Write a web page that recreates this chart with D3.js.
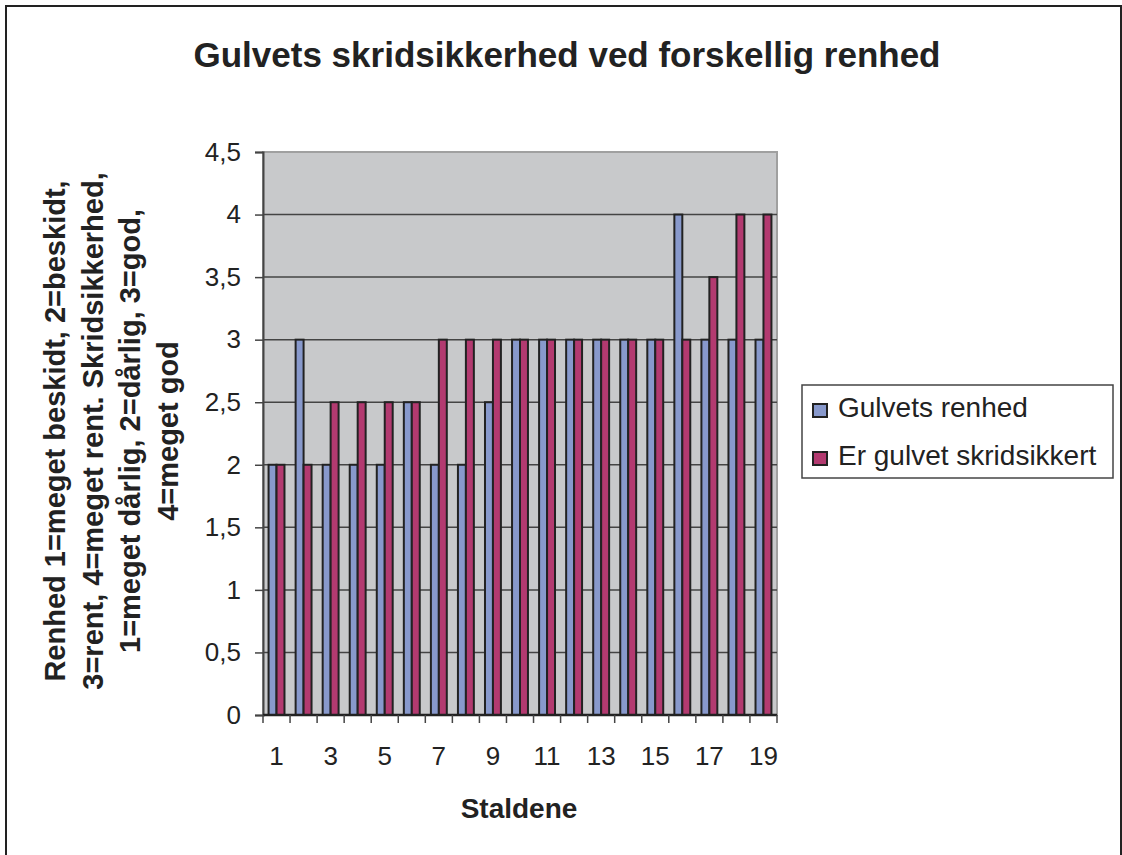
<!DOCTYPE html>
<html>
<head>
<meta charset="utf-8">
<script src="https://d3js.org/d3.v7.min.js"></script>
<style>
  body { margin: 0; background: #fff; }
  svg { display: block; font-family: "Liberation Sans", Arial, sans-serif; }
</style>
</head>
<body>
<div id="chart"></div>
<script>
// Staldene 1..19
var stalde = d3.range(1, 20).map(String);
var seriesNames = ["Gulvets renhed", "Er gulvet skridsikkert"];
var renhed = [2, 3, 2, 2, 2, 2.5, 2, 2, 2.5, 3, 3, 3, 3, 3, 3, 4, 3, 3, 3];
var skridsikker = [2, 2, 2.5, 2.5, 2.5, 2.5, 3, 3, 3, 3, 3, 3, 3, 3, 3, 3, 3.5, 4, 4];
var yTicks = [0, 0.5, 1, 1.5, 2, 2.5, 3, 3.5, 4, 4.5];
var xTickLabels = ["1", "3", "5", "7", "9", "11", "13", "15", "17", "19"];
var colors = ["#8899cc", "#b33a70"];
var yTitleLines = [
  "Renhed 1=meget beskidt,  2=beskidt,",
  "3=rent,  4=meget rent.  Skridsikkerhed,",
  "1=meget dårlig,  2=dårlig,  3=god,",
  "4=meget god"
];

var W = 1122, H = 855;
var plot = { left: 263, right: 777, top: 152, bottom: 715 };

var svg = d3.select("#chart").append("svg")
  .attr("width", W)
  .attr("height", H);

// outer frame
svg.append("rect")
  .attr("x", 6).attr("y", 6)
  .attr("width", 1115).attr("height", 870)
  .attr("fill", "#fff")
  .attr("stroke", "#222")
  .attr("stroke-width", 2);

// title
svg.append("text")
  .attr("x", 567).attr("y", 67)
  .attr("text-anchor", "middle")
  .attr("font-size", 35)
  .attr("font-weight", "bold")
  .attr("fill", "#222")
  .text("Gulvets skridsikkerhed ved forskellig renhed");

var x0 = d3.scaleBand()
  .domain(stalde)
  .range([plot.left, plot.right])
  .padding(0);

var x1 = d3.scaleBand()
  .domain(seriesNames)
  .range([0, x0.bandwidth()])
  .paddingInner(0)
  .paddingOuter(0.7);

var y = d3.scaleLinear()
  .domain([0, 4.5])
  .range([plot.bottom, plot.top]);

// plot background
svg.append("rect")
  .attr("x", plot.left).attr("y", plot.top)
  .attr("width", plot.right - plot.left)
  .attr("height", plot.bottom - plot.top)
  .attr("fill", "#c8c9cb")
  .attr("stroke", "#a0a0a0")
  .attr("stroke-width", 2);

// gridlines
svg.append("g")
  .selectAll("line")
  .data(yTicks.filter(function(d) { return d > 0 && d < 4.5; }))
  .enter().append("line")
  .attr("x1", plot.left).attr("x2", plot.right)
  .attr("y1", function(d) { return y(d); })
  .attr("y2", function(d) { return y(d); })
  .attr("stroke", "#444")
  .attr("stroke-width", 1.5);

// bars
var rows = stalde.map(function(s, i) {
  return { stald: s, values: [renhed[i], skridsikker[i]] };
});

var groups = svg.append("g")
  .selectAll("g")
  .data(rows)
  .enter().append("g")
  .attr("transform", function(d) { return "translate(" + x0(d.stald) + ",0)"; });

groups.selectAll("rect")
  .data(function(d) {
    return d.values.map(function(v, j) { return { name: seriesNames[j], value: v, idx: j }; });
  })
  .enter().append("rect")
  .attr("x", function(d) { return x1(d.name); })
  .attr("y", function(d) { return y(d.value); })
  .attr("width", x1.bandwidth())
  .attr("height", function(d) { return y(0) - y(d.value); })
  .attr("fill", function(d) { return colors[d.idx]; })
  .attr("stroke", "#222")
  .attr("stroke-width", 2);

// y axis
var yAxis = svg.append("g")
  .attr("transform", "translate(" + plot.left + ",0)")
  .call(d3.axisLeft(y)
    .tickValues(yTicks)
    .tickSize(8)
    .tickPadding(14)
    .tickFormat(function(d) { return String(d).replace(".", ","); }));
yAxis.select(".domain").attr("stroke", "#444").attr("stroke-width", 2);
yAxis.selectAll(".tick line").attr("stroke", "#444").attr("stroke-width", 1.5);
yAxis.selectAll("text")
  .attr("font-size", 26)
  .attr("font-family", "Liberation Sans, Arial, sans-serif")
  .attr("fill", "#222");

// x axis: ticks at category boundaries, labels on odd categories
var xg = svg.append("g");
xg.append("line")
  .attr("x1", plot.left).attr("x2", plot.right)
  .attr("y1", plot.bottom).attr("y2", plot.bottom)
  .attr("stroke", "#222")
  .attr("stroke-width", 2.5);
var boundaries = stalde.map(function(s) { return x0(s); }).concat([x0.range()[1]]);
xg.selectAll(".xtick")
  .data(boundaries)
  .enter().append("line")
  .attr("class", "xtick")
  .attr("x1", function(d) { return d; }).attr("x2", function(d) { return d; })
  .attr("y1", plot.bottom).attr("y2", plot.bottom + 8)
  .attr("stroke", "#444")
  .attr("stroke-width", 1.5);
xg.selectAll(".xlabel")
  .data(xTickLabels)
  .enter().append("text")
  .attr("class", "xlabel")
  .attr("x", function(d) { return x0(d) + x0.bandwidth() / 2; })
  .attr("y", 765)
  .attr("text-anchor", "middle")
  .attr("font-size", 26)
  .attr("fill", "#222")
  .text(function(d) { return d; });

// x axis title
svg.append("text")
  .attr("x", 519).attr("y", 818)
  .attr("text-anchor", "middle")
  .attr("font-size", 28)
  .attr("font-weight", "bold")
  .attr("fill", "#222")
  .text("Staldene");

// y axis title (four lines, rotated)
var yTitle = svg.append("text")
  .attr("transform", "rotate(-90)")
  .attr("text-anchor", "middle")
  .attr("font-size", 29)
  .attr("font-weight", "bold")
  .attr("fill", "#222");
yTitleLines.forEach(function(line, i) {
  yTitle.append("tspan")
    .attr("x", -431)
    .attr("y", 65 + i * 37.7)
    .text(line);
});

// legend
var legend = svg.append("g");
legend.append("rect")
  .attr("x", 802).attr("y", 385)
  .attr("width", 311).attr("height", 93)
  .attr("fill", "#fff")
  .attr("stroke", "#444")
  .attr("stroke-width", 1.5);
seriesNames.forEach(function(name, i) {
  var by = 417 + i * 48;
  legend.append("rect")
    .attr("x", 813).attr("y", by - 13)
    .attr("width", 14).attr("height", 13)
    .attr("fill", colors[i])
    .attr("stroke", "#222")
    .attr("stroke-width", 2);
  legend.append("text")
    .attr("x", 838).attr("y", by)
    .attr("font-size", 28)
    .attr("fill", "#222")
    .text(name);
});
</script>
</body>
</html>
